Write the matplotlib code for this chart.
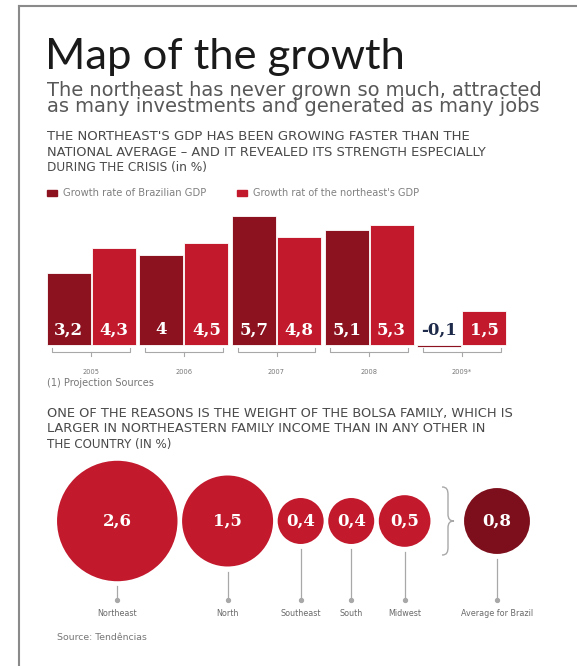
import numpy as np
import matplotlib.pyplot as plt
from matplotlib.patches import Circle, PathPatch, Rectangle
from matplotlib.path import Path
from matplotlib.lines import Line2D

# ---- data ----
years = ['2005', '2006', '2007', '2008', '2009*']
brazil_gdp = [3.2, 4.0, 5.7, 5.1, -0.1]
northeast_gdp = [4.3, 4.5, 4.8, 5.3, 1.5]

regions = ['Northeast', 'North', 'Southeast', 'South', 'Midwest']
bolsa_share = [2.6, 1.5, 0.4, 0.4, 0.5]
avg_label = 'Average for Brazil'
avg_share = 0.8

legend_labels = ['Growth rate of Brazilian GDP', "Growth rat of the northeast's GDP"]

DARK = '#8c1220'
RED = '#c2192d'
GREY = '#a8a8a8'
SANS = 'Lato'
WIDE = 'DejaVu Sans'
SERIF = 'DejaVu Serif'

W, H = 577, 666
fig = plt.figure(figsize=(W / 100, H / 100), dpi=100)
renderer = fig.canvas.get_renderer()


def fx(x):
    return x / W


def fy(y):
    return 1 - y / H


def put(x, y, s, width=None, **kw):
    # place text at pixel position; optionally scale the font to a pixel width
    kw.setdefault('family', WIDE)
    kw.setdefault('va', 'baseline')
    t = fig.text(fx(x), fy(y), s, **kw)
    if width:
        cur = t.get_window_extent(renderer).width
        t.set_fontsize(t.get_fontsize() * width / cur)
    return t


def num(v):
    return ('%g' % v).replace('.', ',')


# frame
fig.add_artist(Line2D([fx(19), 1], [fy(6), fy(6)], color='#8a8a8a', lw=1.5))
fig.add_artist(Line2D([fx(19), fx(19)], [fy(6), 0], color='#8a8a8a', lw=1.5))

# headings
put(45, 69, 'Map of the growth', width=358, family=SANS, fontsize=31, color='#1a1a1a')
put(47, 112, 'The northeast has never grown so much, attracted\n'
    'as many investments and generated as many jobs', width=494,
    fontsize=13.5, linespacing=0.8, color='#585858')

h1 = ["THE NORTHEAST'S GDP HAS BEEN GROWING FASTER THAN THE",
      'NATIONAL AVERAGE \u2013 AND IT REVEALED ITS STRENGTH ESPECIALLY',
      'DURING THE CRISIS (in %)']
h1_w = [426, 440, 160]
for i, line in enumerate(h1):
    put(47, 140 + i * 15.5, line, width=h1_w[i], fontsize=8, color='#4a4a4a')

# legend
leg_w = [145, 168]
for i, (lab, c) in enumerate(zip(legend_labels, [DARK, RED])):
    x0 = 47 + i * 190
    fig.add_artist(Rectangle((fx(x0), fy(196)), 10 / W, 6 / H, color=c))
    put(x0 + 16, 196, lab, width=leg_w[i], fontsize=6, color='#808080')

# ---- bar chart ----
px_unit = 22.6
zero_px = 345
top_px, bot_px = 200, 392
left_px, right_px = 40, 520
grp_px, grp0_px = 92.6, 91.3

ax = fig.add_axes([fx(left_px), fy(bot_px), (right_px - left_px) / W, (bot_px - top_px) / H])
ax.set_ylim(-(bot_px - zero_px) / px_unit, (zero_px - top_px) / px_unit)
ax.set_xlim((left_px - grp0_px) / grp_px, (right_px - grp0_px) / grp_px)
ax.axis('off')

x = np.arange(len(years))
w = 44 / grp_px
off = 22.5 / grp_px
ax.bar(x - off, brazil_gdp, width=w, color=DARK, edgecolor='white', linewidth=0.6)
ax.bar(x + off, northeast_gdp, width=w, color=RED, edgecolor='white', linewidth=0.6)

lab_y = (zero_px - 330) / px_unit
for xi, b, n in zip(x, brazil_gdp, northeast_gdp):
    ax.text(xi - off, lab_y, num(b), ha='center', va='center', family=SERIF, weight='bold',
            fontsize=12, color='white' if b > 0 else '#1d2a4a')
    ax.text(xi + off, lab_y, num(n), ha='center', va='center', family=SERIF, weight='bold',
            fontsize=12, color='white')

# brackets under groups
yt, ym, yk = -3 / px_unit, -7 / px_unit, -11 / px_unit
for xi in x:
    l, r = xi - off - w / 2 + 0.06, xi + off + w / 2 - 0.06
    ax.plot([l, l, r, r], [yt, ym, ym, yt], color=GREY, lw=0.8, clip_on=False)
    ax.plot([xi, xi], [ym, yk], color=GREY, lw=0.8, clip_on=False)
for xi, yr in zip(x, years):
    ax.text(xi, -(372 - zero_px) / px_unit, yr, ha='center', va='center', family=WIDE,
            fontsize=4.8, color='#777777')

put(47, 386, '(1) Projection Sources', width=108, fontsize=6, color='#777777')

# ---- bubbles ----
h2 = ['ONE OF THE REASONS IS THE WEIGHT OF THE BOLSA FAMILY, WHICH IS',
      'LARGER IN NORTHEASTERN FAMILY INCOME THAN IN ANY OTHER IN',
      'THE COUNTRY (IN %)']
h2_w = [468, 442, 126]
for i, line in enumerate(h2):
    put(47, 417 + i * 15.5, line, width=h2_w[i], fontsize=8, color='#4a4a4a')

cax = fig.add_axes([0, fy(650), 1, (650 - 450) / H])
cax.set_xlim(0, W)
cax.set_ylim(650, 450)
cax.axis('off')

k = 38
cy = 521
stem_end = 600
gap = 2.5


def bubble(cx, v, c, label):
    r = k * np.sqrt(v)
    cax.add_patch(Circle((cx, cy), r, fc=c, ec='white', lw=1.5))
    cax.text(cx, cy, num(v), ha='center', va='center', family=SERIF, weight='bold',
             fontsize=12, color='white')
    cax.plot([cx, cx], [cy + r + 4, stem_end], color=GREY, lw=0.9)
    cax.plot([cx], [stem_end], 'o', ms=2.8, color=GREY)
    cax.text(cx, 613, label, ha='center', va='center', family=WIDE, fontsize=5.8,
             color='#6a6a6a')
    return r


edge = 56
for reg, v in zip(regions, bolsa_share):
    r = k * np.sqrt(v)
    bubble(edge + r, v, RED, reg)
    edge += 2 * r + gap

# brace
bx = edge + 8
verts = [(bx, cy - 34), (bx + 5, cy - 34), (bx + 6, cy - 31), (bx + 6, cy - 26),
         (bx + 6, cy - 7),
         (bx + 6, cy - 2), (bx + 8, cy), (bx + 12, cy),
         (bx + 8, cy), (bx + 6, cy + 2), (bx + 6, cy + 7),
         (bx + 6, cy + 26),
         (bx + 6, cy + 31), (bx + 5, cy + 34), (bx, cy + 34)]
codes = [Path.MOVETO, Path.CURVE4, Path.CURVE4, Path.CURVE4, Path.LINETO,
         Path.CURVE4, Path.CURVE4, Path.CURVE4, Path.CURVE4, Path.CURVE4, Path.CURVE4,
         Path.LINETO, Path.CURVE4, Path.CURVE4, Path.CURVE4]
cax.add_patch(PathPatch(Path(verts, codes), fc='none', ec=GREY, lw=1))

bubble(bx + 55, avg_share, '#7d0f1c', avg_label)

put(57, 640, 'Source: Tend\u00eancias', width=90, fontsize=6.5, color='#777777')

fig.savefig('out.png', dpi=100)
